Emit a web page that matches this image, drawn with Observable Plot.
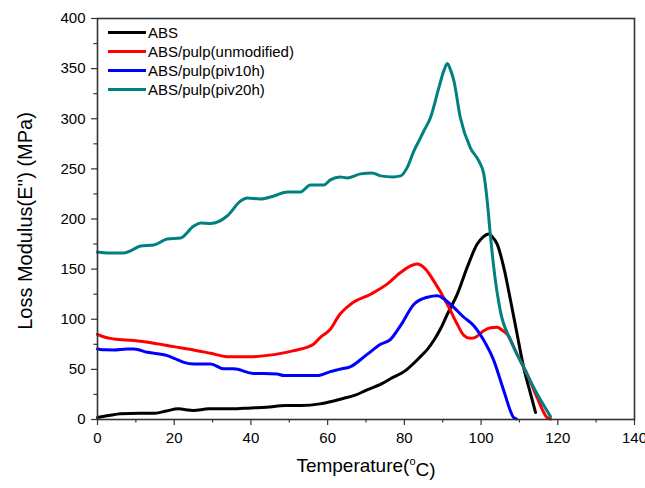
<!DOCTYPE html>
<html>
<head>
<meta charset="utf-8">
<script src="https://cdn.jsdelivr.net/npm/d3@7"></script>
<script src="https://cdn.jsdelivr.net/npm/@observablehq/plot@0.6"></script>
<style>
  html, body { margin: 0; padding: 0; background: #fff; }
  #wrap { position: relative; width: 645px; height: 488px; font-family: "Liberation Sans", Arial, sans-serif; }
  #legend { position: absolute; left: 108px; top: 23px; font-size: 15px; color: #000; }
  .row { display: flex; align-items: center; height: 19px; }
  .sw { width: 38px; height: 3px; margin-right: 2px; }
</style>
</head>
<body>
<div id="wrap"><div id="legend"></div></div>
<script>
const seriesNames = ["ABS", "ABS/pulp(unmodified)", "ABS/pulp(piv10h)", "ABS/pulp(piv20h)"];
const seriesColors = ["#000000", "#ff0000", "#0000ff", "#008080"];

const absT = [0,3,6,11,15,18,21,25,29,35,40,44,49,53,58,61,64,67,70,74,77,80,84,86,87.7,89.5,91.2,93.8,96.4,99,100.5,102,103,104.2,105.9,107.7,109.4,111.1,112.9,114.2];
const absE = [2,4,5.7,6.3,6.3,8.5,10.6,9,10.6,10.6,11.5,12.2,14,14,15.6,18,21,24,29,35.5,42,48,62,70,79,91,105,125,152,175,182,185,182,175,152,118.5,85,52,25.6,7];

const unmodT = [0,2,4.3,9.5,14.7,19.9,25.1,29.5,33.8,37,40.7,46,51.2,56.4,58.1,60.7,63,66,71.2,75.5,79,83.3,85.5,87.7,91.2,93.8,95.5,97.2,98.5,100.7,102.5,104.2,105.5,106.8,109.4,112,114.6,117.2,118.1];
const unmodE = [85,82,80.4,78.7,76,72.7,69.4,66,62.7,62.5,62.7,64.7,68.7,75.4,82,90,104,115,125,135,146.7,155,150,138,115,95,84,81,82,88.6,91.5,92,89,85,65,45.5,22,2,0.5];

const piv10T = [0,2,4.3,7.7,9.5,13,18.2,20,22.5,25.1,29.5,32.9,35.5,40.7,43.4,46.8,48.6,52.9,57.3,60.7,63,66,70.3,73.8,76.4,79,82.5,86,88.6,92,95.5,98.1,100.7,103.3,105.9,108.5,109.2];
const piv10E = [70.4,69.5,69.4,70.4,70.4,67,63.7,61,57,55.4,55.4,50.5,50.5,46,46,45.5,43.8,43.8,43.8,47.8,50,52.8,65,75,80,93.6,115,122,123.5,115,102,93.6,79,59,29,2,0.5];

const piv20T = [0,3,6.9,9,11.2,14.7,18.2,21.6,25.1,26.9,29.5,33.8,37.3,39,42.5,46,49.5,52.9,55.5,59,60.7,63.3,65,68.6,71.6,73.8,77,79,80.7,82.5,84.2,85.1,86.8,89,90.3,91.2,92.1,92.9,94.6,97.2,99.4,100.7,101.6,102.4,103.3,105,107.7,111.1,114.6,118.1];
const piv20E = [167,166,166,169,173,174,180,181,193,196,195.5,203,218,221,220,223,227,227,234,234,239,242,241,245,246,243,242,243,251,268,281,288,301,331,348,355,348,338,301,271,258,245,218,185,152,108.6,79,52,25.6,3];

const xTicks = [0,20,40,60,80,100,120,140];
const xMinor = [10,30,50,70,90,110,130];
const yTicks = [0,50,100,150,200,250,300,350,400];
const yMinor = [25,75,125,175,225,275,325,375];
const xLabel = "Temperature(°C)";
const yLabel = "Loss Modulus(E'') (MPa)";

const allT = [absT, unmodT, piv10T, piv20T];
const allE = [absE, unmodE, piv10E, piv20E];
const data = [];
seriesNames.forEach((s, i) => allT[i].forEach((t, j) => data.push({series: s, t, e: allE[i][j]})));

const chart = Plot.plot({
  width: 645, height: 488,
  marginLeft: 97, marginRight: 11, marginTop: 18, marginBottom: 69,
  x: {domain: [0, 140]},
  y: {domain: [0, 400]},
  color: {domain: seriesNames, range: seriesColors},
  style: {fontFamily: "'Liberation Sans', Arial, sans-serif", color: "#000", background: "transparent"},
  marks: [
    Plot.axisX({ticks: xTicks, tickSize: 6, tickPadding: 7, fontSize: 15, label: null, stroke: "#333", strokeWidth: 1.2}),
    Plot.axisX({ticks: xMinor, tickSize: 3.5, text: null, label: null, stroke: "#333", strokeWidth: 1.2}),
    Plot.axisY({ticks: yTicks, tickSize: 6, tickPadding: 6, fontSize: 15, label: null, stroke: "#333", strokeWidth: 1.2}),
    Plot.axisY({ticks: yMinor, tickSize: 3.5, text: null, label: null, stroke: "#333", strokeWidth: 1.2}),
    Plot.line(data, {x: "t", y: "e", z: "series", stroke: "series", strokeWidth: 3, curve: "monotone-x"}),
    Plot.frame({stroke: "#333", strokeWidth: 1.6}),
    Plot.text([xLabel], {frameAnchor: "bottom", dy: 52, fontSize: 19, text: d => d}),
    Plot.text([yLabel], {frameAnchor: "left", textAnchor: "middle", lineAnchor: "middle", dx: -72, dy: 2, rotate: -90, fontSize: 20, text: d => d})
  ]
});

document.getElementById("wrap").prepend(chart);

// superscript degree mark in x label
d3.select(chart).selectAll("text").each(function() {
  const el = d3.select(this);
  if (el.text() === xLabel) {
    const target = el.selectAll("tspan").empty() ? el : el.select("tspan");
    target.text(null);
    target.append("tspan").text("Temperature(");
    target.append("tspan").attr("font-size", 11).attr("dy", "-0.6em").text("o");
    target.append("tspan").attr("dy", "0.6em").text("C)");
  }
});

// legend
const lg = d3.select("#legend");
seriesNames.forEach((s, i) => {
  const r = lg.append("div").attr("class", "row");
  r.append("div").attr("class", "sw").style("background", seriesColors[i]);
  r.append("span").text(s);
});
</script>
</body>
</html>
